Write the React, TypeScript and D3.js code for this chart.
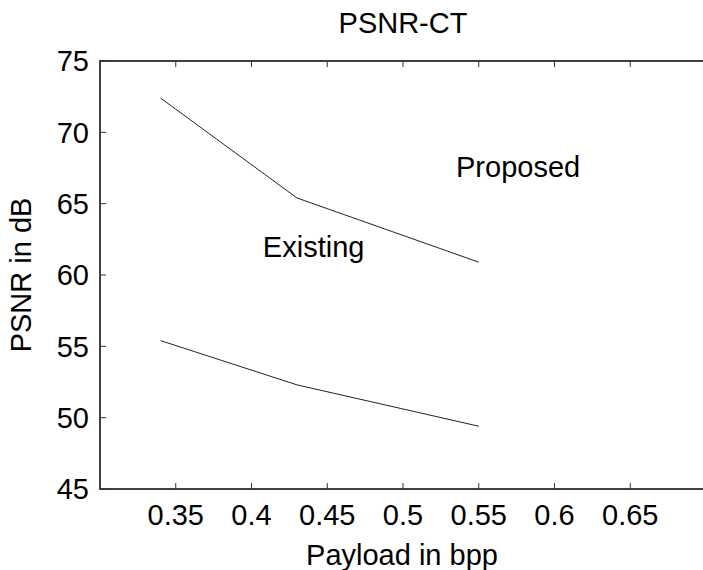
import { useMemo } from "react";
import * as d3 from "d3";

const payload = [0.34, 0.43, 0.55];
const proposed = [72.4, 65.4, 60.9];
const existing = [55.4, 52.3, 49.4];
const xTicks = [0.35, 0.4, 0.45, 0.5, 0.55, 0.6, 0.65];
const yTicks = [45, 50, 55, 60, 65, 70, 75];
const labels = [
  { text: "Proposed", x: 0.535, y: 67.6 },
  { text: "Existing", x: 0.4075, y: 62.0 },
];

const width = 703;
const height = 570;
const margin = { left: 100, top: 61, right: -3, bottom: 81 };
const font = "'Liberation Sans', Arial, sans-serif";
const fs = 29;

export default function App() {
  const x = useMemo(
    () => d3.scaleLinear().domain([0.3, 0.7]).range([margin.left, width - margin.right]),
    []
  );
  const y = useMemo(
    () => d3.scaleLinear().domain([45, 75]).range([height - margin.bottom, margin.top]),
    []
  );

  const line = d3
    .line<number>()
    .x((_, i) => x(payload[i]))
    .y((d) => y(d));

  const x0 = x.range()[0];
  const x1 = x.range()[1];
  const y0 = y.range()[0];
  const y1 = y.range()[1];
  const tick = 6;

  return (
    <svg
      width={width}
      height={height}
      style={{ position: "absolute", left: 0, top: 0, background: "#fff" }}
      fontFamily={font}
    >
      <rect width={width} height={height} fill="#fff" />
      {/* axes box, right side falls just outside the picture */}
      <rect x={x0} y={y1} width={x1 - x0 + 10} height={y0 - y1} fill="none" stroke="#000" strokeWidth={1.5} />
      {xTicks.map((t) => (
        <g key={"x" + t}>
          <line x1={x(t)} x2={x(t)} y1={y0} y2={y0 - tick} stroke="#333" strokeWidth={1} />
          <line x1={x(t)} x2={x(t)} y1={y1} y2={y1 + tick} stroke="#333" strokeWidth={1} />
          <text x={x(t)} y={y0 + 36} textAnchor="middle" fontSize={fs}>
            {String(t)}
          </text>
        </g>
      ))}
      {yTicks.map((t) => (
        <g key={"y" + t}>
          <line x1={x0} x2={x0 + tick} y1={y(t)} y2={y(t)} stroke="#333" strokeWidth={1} />
          <text x={89} y={y(t)} dy="0.36em" textAnchor="end" fontSize={fs}>
            {t}
          </text>
        </g>
      ))}
      <path d={line(proposed) ?? ""} fill="none" stroke="#222" strokeWidth={1} />
      <path d={line(existing) ?? ""} fill="none" stroke="#222" strokeWidth={1} />
      {labels.map((l) => (
        <text key={l.text} x={x(l.x)} y={y(l.y)} dy="0.36em" fontSize={fs}>
          {l.text}
        </text>
      ))}
      <text x={(x0 + x1) / 2} y={33} textAnchor="middle" fontSize={fs}>
        PSNR-CT
      </text>
      <text x={402} y={565} textAnchor="middle" fontSize={fs}>
        Payload in bpp
      </text>
      <text
        transform={`translate(31, ${(y0 + y1) / 2}) rotate(-90)`}
        textAnchor="middle"
        fontSize={fs}
      >
        PSNR in dB
      </text>
    </svg>
  );
}
